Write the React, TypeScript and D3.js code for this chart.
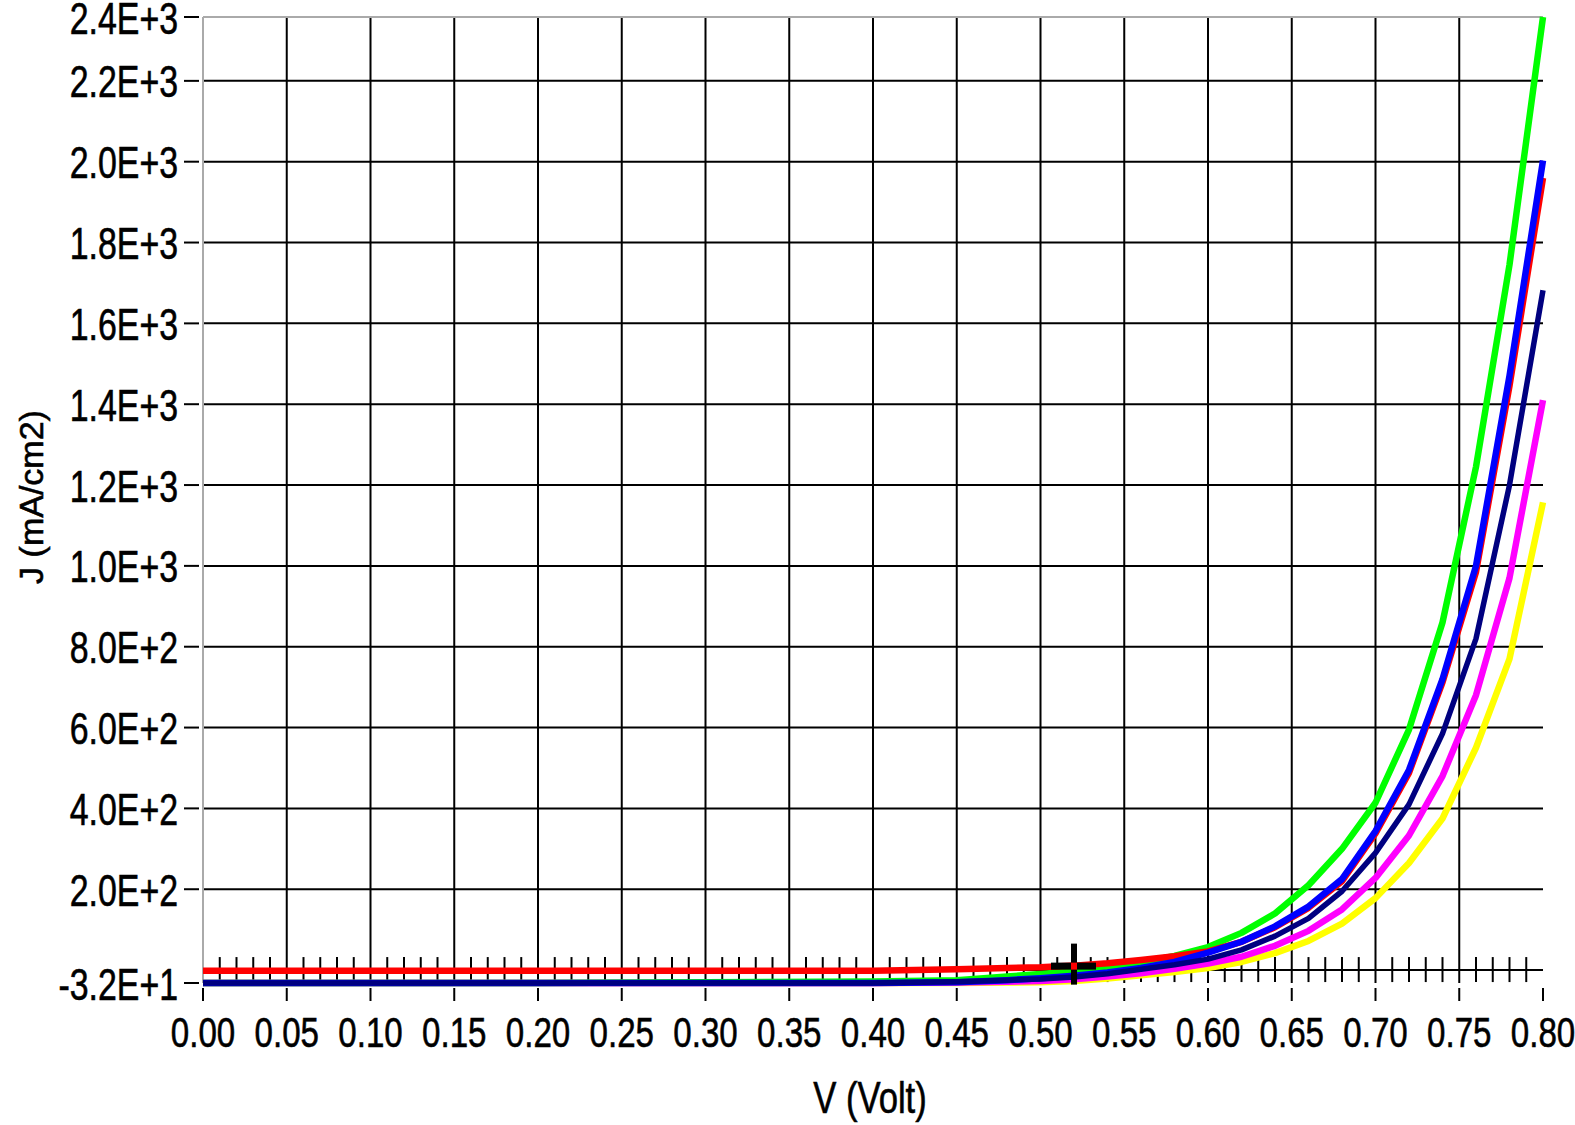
import React from 'react';
import * as d3 from 'd3';

// ---- data ----
const voltage = [0.0, 0.1, 0.2, 0.3, 0.4, 0.45, 0.48, 0.5, 0.52, 0.54, 0.56, 0.58, 0.6, 0.62, 0.64, 0.66, 0.68, 0.7, 0.72, 0.74, 0.76, 0.78, 0.8];

const jYellow = [-32, -32, -32, -32, -32, -32, -31, -30, -27, -21, -13, -5, 5, 20, 42, 72, 115, 178, 265, 375, 550, 770, 1157];
const jMagenta = [-32, -32, -32, -32, -32, -31, -29, -27, -23, -16, -8, 3, 16, 33, 60, 97, 150, 228, 333, 480, 680, 970, 1410];
const jGreen = [-32, -32, -32, -30, -28, -25, -16, -10, -3, 6, 18, 35, 57, 92, 140, 210, 300, 414, 595, 860, 1245, 1745, 2358];
const jRed = [-2, -2, -2, -2, -2, 2, 5, 7, 11, 17, 25, 34, 46, 70, 106, 154, 220, 338, 488, 712, 985, 1445, 1960];
const jBlue = [-32, -32, -32, -32, -32, -30, -25, -20, -14, -6, 5, 20, 43, 70, 108, 157, 225, 344, 495, 720, 1000, 1470, 2003];
const jNavy = [-32, -32, -32, -32, -32, -29, -25, -22, -17, -9, 2, 13, 27, 50, 84, 128, 195, 290, 410, 585, 820, 1200, 1682];

const seriesColors = ['#FFFF00', '#FF00FF', '#00FF00', '#FF0000', '#0000FF', '#000080'];
const seriesValues = [jYellow, jMagenta, jGreen, jRed, jBlue, jNavy];

const xTickValues = [0, 0.05, 0.1, 0.15, 0.2, 0.25, 0.3, 0.35, 0.4, 0.45, 0.5, 0.55, 0.6, 0.65, 0.7, 0.75, 0.8];
const xTickLabels = ['0.00', '0.05', '0.10', '0.15', '0.20', '0.25', '0.30', '0.35', '0.40', '0.45', '0.50', '0.55', '0.60', '0.65', '0.70', '0.75', '0.80'];
const yTickValues = [-32, 200, 400, 600, 800, 1000, 1200, 1400, 1600, 1800, 2000, 2200, 2358];
const yTickLabels = ['-3.2E+1', '2.0E+2', '4.0E+2', '6.0E+2', '8.0E+2', '1.0E+3', '1.2E+3', '1.4E+3', '1.6E+3', '1.8E+3', '2.0E+3', '2.2E+3', '2.4E+3'];
const cursorV = 0.52;

const W = 1575;
const H = 1125;
const left = 203;
const right = 1543;
const top = 17;
const bottom = 983;
const FONT = "'Liberation Sans', Arial, sans-serif";
const SX = 0.77;

export default function App() {
  const x = d3.scaleLinear().domain([0, 0.8]).range([left, right]);
  const y = d3.scaleLinear().domain([-32, 2358]).range([bottom, top]);
  const line = d3
    .line<number>()
    .x((_, i) => x(voltage[i]))
    .y((d) => y(d));

  const minor = d3.range(1, 80).filter((i) => i % 5 !== 0).map((i) => i / 100);
  const y0 = y(0);
  const cx = x(cursorV);
  const cy = y(jRed[voltage.indexOf(cursorV)]);
  const textProps = { fill: '#000', stroke: '#000', strokeWidth: 0.6 };

  return (
    <svg
      width={W}
      height={H}
      style={{ position: 'absolute', left: 0, top: 0, background: '#fff' }}
      fontFamily={FONT}
    >
      <defs>
        <clipPath id="plot">
          <rect x={left} y={top - 3} width={right - left + 4} height={bottom - top + 10} />
        </clipPath>
      </defs>
      <rect x={0} y={0} width={W} height={H} fill="#fff" />

      {/* horizontal grid */}
      {yTickValues
        .filter((v, i) => i > 0 && i < yTickValues.length - 1)
        .map((v) => (
          <line key={'hg' + v} x1={left} x2={right} y1={y(v)} y2={y(v)} stroke="#000" strokeWidth={2} />
        ))}
      {/* vertical grid */}
      {xTickValues
        .filter((v, i) => i > 0 && i < xTickValues.length - 1)
        .map((v) => (
          <line key={'vg' + v} x1={x(v)} x2={x(v)} y1={top} y2={bottom} stroke="#000" strokeWidth={2} />
        ))}
      {/* zero line */}
      <line x1={left} x2={right} y1={y0} y2={y0} stroke="#000" strokeWidth={2} />
      {/* minor ticks on zero line */}
      {minor.map((v) => (
        <line key={'mt' + v} x1={x(v)} x2={x(v)} y1={y0 - 13} y2={y0 + 12} stroke="#000" strokeWidth={2} />
      ))}
      {/* borders */}
      <line x1={left} x2={left} y1={top} y2={bottom} stroke="#aaa" strokeWidth={2} />
      <line x1={left} x2={right} y1={top} y2={top} stroke="#aaa" strokeWidth={2} />

      {/* curves */}
      <g clipPath="url(#plot)">
        {seriesValues.map((vals, i) => (
          <path
            key={'s' + i}
            d={line(vals) || ''}
            fill="none"
            stroke={seriesColors[i]}
            strokeWidth={i === 5 ? 5.5 : 6.5}
            strokeLinejoin="round"
          />
        ))}
      </g>

      {/* cursor */}
      <rect x={cx - 3} y={cy - 22} width={6} height={41} fill="#000" />
      <rect x={cx - 23} y={cy - 3} width={45} height={7} fill="#000" />
      <rect x={cx - 3} y={cy - 3} width={6} height={7} fill="#ff0000" />

      {/* x axis ticks and labels */}
      {xTickValues.map((v, i) => (
        <g key={'xt' + v}>
          <line x1={x(v)} x2={x(v)} y1={bottom + 5} y2={bottom + 18} stroke="#000" strokeWidth={2} />
          <text
            transform={`translate(${x(v)},1047) scale(${SX},1)`}
            textAnchor="middle"
            fontSize={43}
            {...textProps}
          >
            {xTickLabels[i]}
          </text>
        </g>
      ))}

      {/* y axis ticks and labels */}
      {yTickValues.map((v, i) => (
        <g key={'yt' + v}>
          <line x1={184} x2={199} y1={y(v)} y2={y(v)} stroke="#000" strokeWidth={2} />
          <text
            transform={`translate(178,${y(v) + 16.5}) scale(${SX},1)`}
            textAnchor="end"
            fontSize={44}
            {...textProps}
          >
            {yTickLabels[i]}
          </text>
        </g>
      ))}

      {/* axis titles */}
      <text transform={`translate(870,1113) scale(${SX},1)`} textAnchor="middle" fontSize={45} {...textProps}>
        V (Volt)
      </text>
      <text
        transform={`translate(43,497) scale(0.95,1) rotate(-90)`}
        textAnchor="middle"
        fontSize={34}
        {...textProps}
      >
        J (mA/cm2)
      </text>
    </svg>
  );
}
